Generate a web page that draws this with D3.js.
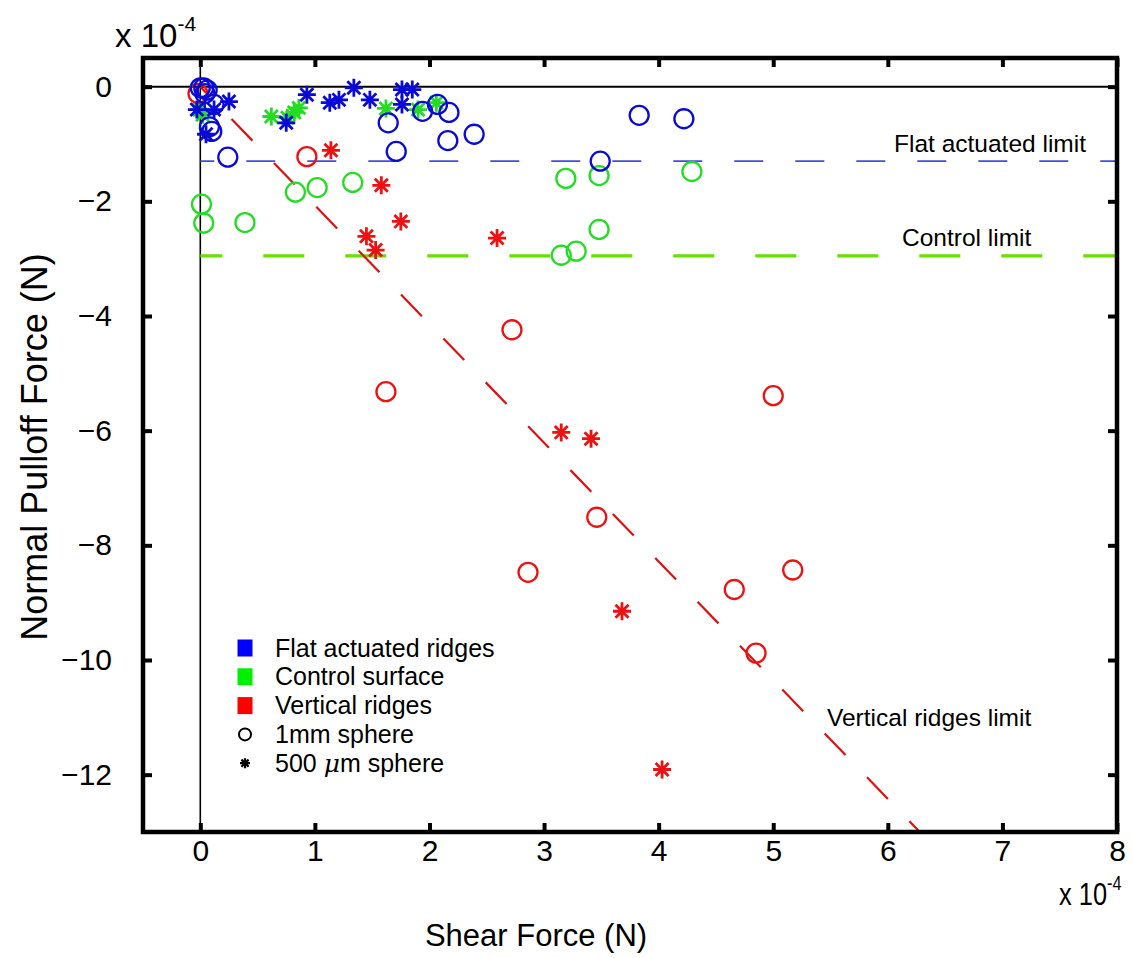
<!DOCTYPE html>
<html lang="en">
<head>
<meta charset="utf-8">
<script src="https://cdn.jsdelivr.net/npm/d3@7"></script>
<style>
  body { margin: 0; background: #fff; }
  text { font-family: "Liberation Sans", Arial, Helvetica, sans-serif; fill: #000; }
</style>
</head>
<body>
<script>
// all values in units of 1e-4 N
let flatCircles = [[0.00, -0.02], [0.03, -0.02], [0.06, -0.06], [0.04, -0.12], [0.12, -0.31], [0.08, -0.70],
  [0.10, -0.78], [0.24, -1.23], [1.64, -0.63], [1.71, -1.13], [1.94, -0.43], [2.07, -0.31], [2.17, -0.45],
  [2.16, -0.94], [2.39, -0.83], [3.83, -0.50], [4.22, -0.56], [3.49, -1.30]];
let flatStars = [[-0.03, -0.40], [0.12, -0.40], [0.25, -0.26], [0.05, -0.83], [0.93, -0.14], [1.13, -0.28],
  [1.21, -0.23], [1.34, -0.02], [1.48, -0.23], [1.76, -0.05], [1.85, -0.05], [1.76, -0.31], [0.75, -0.63]];
let controlCircles = [[0.01, -2.05], [0.03, -2.38], [0.39, -2.37], [0.83, -1.84], [1.02, -1.76], [1.33, -1.67],
  [3.19, -1.60], [3.48, -1.55], [4.29, -1.48], [3.48, -2.49], [3.15, -2.94], [3.28, -2.87]];
let controlStars = [[-0.01, -0.40], [0.02, -0.49], [0.62, -0.52], [0.76, -0.54], [0.82, -0.45], [0.86, -0.37],
  [1.62, -0.38], [1.90, -0.40], [2.06, -0.28]];
let ridgeCircles = [[-0.02, -0.12], [0.93, -1.22], [1.62, -5.32], [2.72, -4.24], [5.00, -5.39], [3.46, -7.51],
  [2.86, -8.47], [4.66, -8.77], [5.17, -8.43], [4.85, -9.88]];
let ridgeStars = [[1.14, -1.11], [1.58, -1.72], [1.75, -2.35], [1.45, -2.61], [1.53, -2.85], [2.59, -2.64],
  [3.15, -6.03], [3.41, -6.14], [3.68, -9.15], [4.03, -11.91]];

let flatLimit = -1.3;
let controlLimit = -2.95;
let ridgeLimit = [[0, 0], [6.4, -13.25]];

let xTicks = [0, 1, 2, 3, 4, 5, 6, 7, 8];
let yTicks = [0, -2, -4, -6, -8, -10, -12];

let legendNames = ["Flat actuated ridges", "Control surface", "Vertical ridges"];
let legendColors = ["#0000ff", "#00ee00", "#ff0000"];

let blue = "#0a0ad8", green = "#22dd22", red = "#ee1111";

let w = 1133, h = 958;
let pLeft = 143, pRight = 1117, pTop = 58, pBottom = 832;

let svg = d3.select("body").append("svg")
  .attr("width", w)
  .attr("height", h);

let x = d3.scaleLinear().domain([-0.5, 8]).range([pLeft, pRight]);
let y = d3.scaleLinear().domain([0.5, -13]).range([pTop, pBottom]);

svg.append("clipPath").attr("id", "plotclip")
  .append("rect")
  .attr("x", pLeft).attr("y", pTop)
  .attr("width", pRight - pLeft).attr("height", pBottom - pTop);

let plot = svg.append("g").attr("clip-path", "url(#plotclip)");

// zero lines
plot.append("line")
  .attr("x1", pLeft).attr("x2", pRight)
  .attr("y1", y(0)).attr("y2", y(0))
  .attr("stroke", "#000").attr("stroke-width", 2);
plot.append("line")
  .attr("x1", x(0)).attr("x2", x(0))
  .attr("y1", pTop).attr("y2", pBottom)
  .attr("stroke", "#000").attr("stroke-width", 1.6);

// limit lines
plot.append("line")
  .attr("x1", x(0)).attr("x2", x(8))
  .attr("y1", y(flatLimit)).attr("y2", y(flatLimit))
  .attr("stroke", "#4a4adc").attr("stroke-width", 1.7)
  .attr("stroke-dasharray", "29 32").attr("stroke-dashoffset", 15);
plot.append("line")
  .attr("x1", x(0)).attr("x2", x(8))
  .attr("y1", y(controlLimit)).attr("y2", y(controlLimit))
  .attr("stroke", "#66e000").attr("stroke-width", 3.2)
  .attr("stroke-dasharray", "41 41").attr("stroke-dashoffset", 19);
plot.append("line")
  .attr("x1", x(ridgeLimit[0][0])).attr("x2", x(ridgeLimit[1][0]))
  .attr("y1", y(ridgeLimit[0][1])).attr("y2", y(ridgeLimit[1][1]))
  .attr("stroke", "#dd1111").attr("stroke-width", 2.2)
  .attr("stroke-dasharray", "30 31").attr("stroke-dashoffset", 16);

// markers
function starPath(r) {
  let d = r * 0.72;
  return "M" + (-r) + ",0L" + r + ",0M0," + (-r) + "L0," + r +
    "M" + (-d) + "," + (-d) + "L" + d + "," + d + "M" + (-d) + "," + d + "L" + d + "," + (-d);
}

function drawCircles(data, color) {
  plot.append("g").selectAll("circle")
    .data(data)
    .join("circle")
    .attr("cx", d => x(d[0]))
    .attr("cy", d => y(d[1]))
    .attr("r", 9.5)
    .attr("fill", "none")
    .attr("stroke", color)
    .attr("stroke-width", 2.3);
}

function drawStars(data, color) {
  plot.append("g").selectAll("path")
    .data(data)
    .join("path")
    .attr("transform", d => "translate(" + x(d[0]) + "," + y(d[1]) + ")")
    .attr("d", starPath(9))
    .attr("fill", "none")
    .attr("stroke", color)
    .attr("stroke-width", 2.8);
}

drawCircles(controlCircles, green);
drawStars(controlStars, green);
drawCircles(ridgeCircles, red);
drawStars(ridgeStars, red);
drawCircles(flatCircles, blue);
drawStars(flatStars, blue);

// axes, ticks point inward
let tickLen = 9;
let fmt = d3.format("d");

svg.append("g")
  .attr("transform", "translate(0," + pBottom + ")")
  .call(d3.axisBottom(x).tickValues(xTicks).tickFormat(fmt).tickSizeInner(-tickLen).tickSizeOuter(0).tickPadding(8));
svg.append("g")
  .attr("transform", "translate(0," + pTop + ")")
  .call(d3.axisTop(x).tickValues(xTicks).tickFormat("").tickSizeInner(-tickLen).tickSizeOuter(0));
svg.append("g")
  .attr("transform", "translate(" + pLeft + ",0)")
  .call(d3.axisLeft(y).tickValues(yTicks).tickFormat(fmt).tickSizeInner(-tickLen).tickSizeOuter(0).tickPadding(31));
svg.append("g")
  .attr("transform", "translate(" + pRight + ",0)")
  .call(d3.axisRight(y).tickValues(yTicks).tickFormat("").tickSizeInner(-tickLen).tickSizeOuter(0));

svg.selectAll(".domain").remove();
svg.selectAll(".tick line").attr("stroke", "#000").attr("stroke-width", 4);
svg.selectAll(".tick text")
  .attr("font-family", "Liberation Sans, Arial, sans-serif")
  .attr("font-size", 30)
  .attr("fill", "#000");

// frame
svg.append("rect")
  .attr("x", pLeft).attr("y", pTop)
  .attr("width", pRight - pLeft).attr("height", pBottom - pTop)
  .attr("fill", "none")
  .attr("stroke", "#000")
  .attr("stroke-width", 4.5);

// exponent labels
function expLabel(px, py, size, sx) {
  let t = svg.append("text")
    .attr("transform", "translate(" + px + "," + py + ") scale(" + sx + ",1)")
    .attr("font-size", size);
  t.append("tspan").text("x 10");
  t.append("tspan").attr("font-size", size * 0.64).attr("dy", -size * 0.48).text("-4");
}
expLabel(115, 47, 33, 1);
expLabel(1059, 905, 31, 0.82);

// axis titles
svg.append("text")
  .attr("x", 536).attr("y", 946)
  .attr("text-anchor", "middle")
  .attr("font-size", 31)
  .text("Shear Force (N)");
svg.append("text")
  .attr("transform", "translate(47,447) rotate(-90)")
  .attr("text-anchor", "middle")
  .attr("font-size", 36)
  .text("Normal Pulloff Force (N)");

// limit annotations
svg.append("text").attr("x", 894).attr("y", 152).attr("font-size", 24.5).text("Flat actuated limit");
svg.append("text").attr("x", 902).attr("y", 246).attr("font-size", 24.5).text("Control limit");
svg.append("text").attr("x", 827).attr("y", 726).attr("font-size", 24.5).text("Vertical ridges limit");

// legend
let lx = 245, ly0 = 648, lstep = 28.8;
legendNames.forEach(function (name, i) {
  svg.append("rect")
    .attr("x", lx - 7.5).attr("y", ly0 + i * lstep - 8.5)
    .attr("width", 15).attr("height", 17)
    .attr("fill", legendColors[i]);
  svg.append("text")
    .attr("x", 275).attr("y", ly0 + i * lstep + 8.5)
    .attr("font-size", 25)
    .text(name);
});
svg.append("circle")
  .attr("cx", lx).attr("cy", ly0 + 3 * lstep)
  .attr("r", 6).attr("fill", "none")
  .attr("stroke", "#000").attr("stroke-width", 2);
svg.append("text")
  .attr("x", 275).attr("y", ly0 + 3 * lstep + 8.5)
  .attr("font-size", 25)
  .text("1mm sphere");
svg.append("path")
  .attr("transform", "translate(" + lx + "," + (ly0 + 4 * lstep) + ")")
  .attr("d", starPath(5))
  .attr("fill", "none").attr("stroke", "#000").attr("stroke-width", 2.2);
let mu = svg.append("text")
  .attr("x", 275).attr("y", ly0 + 4 * lstep + 8.5)
  .attr("font-size", 25);
mu.append("tspan").text("500 ");
mu.append("tspan").attr("font-family", "DejaVu Serif, serif").attr("font-style", "italic").text("\u03bc");
mu.append("tspan").text("m sphere");
</script>
</body>
</html>
